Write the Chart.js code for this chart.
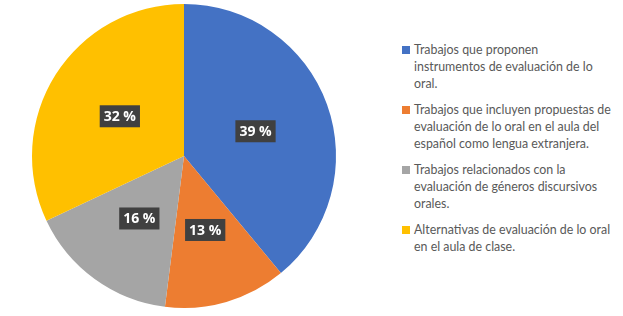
<!DOCTYPE html>
<html>
<head>
<meta charset="utf-8">
<script src="https://cdn.jsdelivr.net/npm/chart.js@4"></script>
<style>
  html, body { margin: 0; padding: 0; background: #fff; }
  #wrap { position: relative; width: 623px; height: 316px; overflow: hidden; }
  #pie { position: absolute; left: 0; top: 0; width: 368px; height: 316px; }
  #leyenda { position: absolute; left: 402px; top: 41px; width: 221px;
             font-family: Lato, "Open Sans", sans-serif; font-size: 12.4px;
             line-height: 17px; color: #595959; white-space: nowrap; }
  #leyenda .item { position: relative; padding-left: 12px; margin-bottom: 9px; }
  #leyenda .cuadro { position: absolute; left: 0; top: 5px; width: 8px; height: 8px; }
</style>
</head>
<body>
<div id="wrap">
  <div id="pie"><canvas id="grafico"></canvas></div>
  <div id="leyenda"></div>
</div>
<script>
document.addEventListener("DOMContentLoaded", function () {

    // cada categoría en líneas, como en la leyenda original
    const categorias = [
        ["Trabajos que proponen", "instrumentos de evaluación de lo", "oral."],
        ["Trabajos que incluyen propuestas de", "evaluación de lo oral en el aula del", "español como lengua extranjera."],
        ["Trabajos relacionados con la", "evaluación de géneros discursivos", "orales."],
        ["Alternativas de evaluación de lo oral", "en el aula de clase."]
    ];
    const porcentajes = [39, 13, 16, 32];
    const colores = ["#4472C4", "#ED7D31", "#A5A5A5", "#FFC000"];

    // etiquetas con caja oscura en el centro de cada porción
    const etiquetas = {
        id: "etiquetas",
        afterDatasetsDraw(chart) {
            const c = chart.ctx;
            const meta = chart.getDatasetMeta(0);
            c.save();
            c.font = "bold 14px 'Open Sans', sans-serif";
            c.textAlign = "center";
            c.textBaseline = "middle";
            meta.data.forEach(function (arc, i) {
                const p = arc.tooltipPosition();
                const txt = porcentajes[i] + " %";
                const w = c.measureText(txt).width + 8;
                const h = 22;
                c.fillStyle = "#404040";
                c.fillRect(p.x - w / 2, p.y - h / 2 + 1, w, h);
                c.fillStyle = "#fff";
                c.fillText(txt, p.x, p.y + 2);
            });
            c.restore();
        }
    };

    new Chart(document.getElementById("grafico"), {
        type: "pie",
        data: {
            labels: categorias,
            datasets: [{
                data: porcentajes,
                backgroundColor: colores,
                borderColor: "#fff",
                borderWidth: 0
            }]
        },
        options: {
            responsive: true,
            maintainAspectRatio: false,
            animation: false,
            layout: { padding: { top: 4, bottom: 8 } },
            plugins: {
                legend: { display: false },
                tooltip: { enabled: false }
            }
        },
        plugins: [etiquetas]
    });

    const leyenda = document.getElementById("leyenda");
    categorias.forEach(function (lineas, i) {
        const item = document.createElement("div");
        item.className = "item";
        const cuadro = document.createElement("span");
        cuadro.className = "cuadro";
        cuadro.style.background = colores[i];
        item.appendChild(cuadro);
        lineas.forEach(function (l, j) {
            if (j > 0) item.appendChild(document.createElement("br"));
            item.appendChild(document.createTextNode(l));
        });
        leyenda.appendChild(item);
    });
});
</script>
</body>
</html>
